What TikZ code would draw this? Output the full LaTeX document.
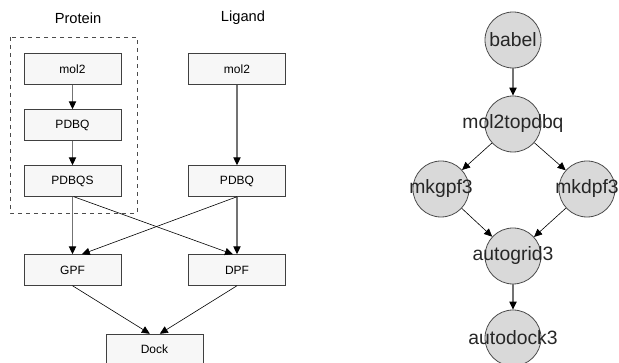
\documentclass[tikz,border=0pt]{standalone}
\usepackage{fontspec}
\setmainfont{Liberation Sans}
\usetikzlibrary{arrows.meta}
\tikzset{%
    box/.style={rectangle, draw=black!75, fill=black!3, line width=0.6pt, minimum width=72.75pt, minimum height=23pt, inner sep=0pt, font=\fontsize{9}{10}\selectfont},
    cir/.style={circle, draw=black!70, fill=black!15, line width=0.6pt, minimum size=42pt, inner sep=0pt},
    lab/.style={font=\fontsize{14.5}{16}\selectfont, text=black!85},
    hdr/.style={font=\fontsize{11}{12}\selectfont},
    arv/.style={draw=black!55, line width=0.8pt, -{Triangle[length=6pt,width=5.5pt,color=black]}},
    ard/.style={line width=0.45pt, -{Triangle[length=6pt,width=5.5pt]}}
}

\begin{document}
\begin{tikzpicture}[x=0.75pt,y=-0.75pt]
    \clip (0,0) rectangle (619,363);
    \node[hdr] (tprot) at (78,18) {Protein};
    \node[hdr] (tlig) at (243,18) {Ligand};
    \draw [dashed, draw=black!70, line width=0.6pt] (10,37) rectangle (137,213);
    \node[box] (pmol) at (72.5,69) {mol2};
    \node[box] (ppdbq) at (72.5,125) {PDBQ};
    \node[box] (ppdbqs) at (72.5,181) {PDBQS};
    \node[box] (lmol) at (237,69) {mol2};
    \node[box] (lpdbq) at (237,181) {PDBQ};
    \node[box] (gpf) at (72.5,270) {GPF};
    \node[box] (dpf) at (237,270) {DPF};
    \node[box] (dock) at (154.5,349.5) {Dock};
    \draw [arv] (pmol) -- (ppdbq);
    \draw [arv] (ppdbq) -- (ppdbqs);
    \draw [arv] (lmol) -- (lpdbq);
    \draw [arv] (ppdbqs) -- (gpf);
    \draw [arv] (lpdbq) -- (dpf);
    \draw [ard] ([xshift=1pt]ppdbqs.south) -- ([xshift=-3pt]dpf.north);
    \draw [ard] (lpdbq.south) -- ([xshift=7pt]gpf.north);
    \draw [ard] (gpf.south) -- ([xshift=-3.5pt]dock.north);
    \draw [ard] (dpf.south) -- ([xshift=4pt]dock.north);
    \node[cir, label={[lab]center:babel}] (babel) at (513,40) {};
    \node[cir, label={[lab]center:mol2topdbq}] (mtop) at (513,124) {};
    \node[cir, label={[lab]center:mkgpf3}] (mkg) at (441,189) {};
    \node[cir, label={[lab]center:mkdpf3}] (mkd) at (587,189) {};
    \node[cir, label={[lab]center:autogrid3}] (agrid) at (513,256) {};
    \node[cir, label={[lab]center:autodock3}] (adock) at (513,338) {};
    \draw [arv] (babel) -- (mtop);
    \draw [ard] (mtop) -- (mkg);
    \draw [ard] (mtop) -- (mkd);
    \draw [ard] (mkg) -- (agrid);
    \draw [ard] (mkd) -- (agrid);
    \draw [arv] (agrid) -- (adock);
\end{tikzpicture}
\end{document}
